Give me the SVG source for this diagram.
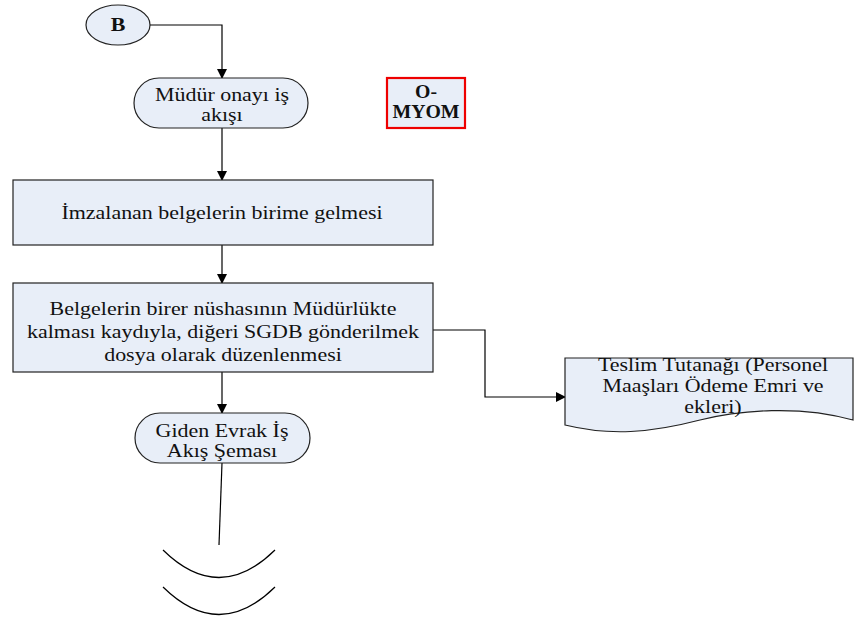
<svg xmlns="http://www.w3.org/2000/svg" width="867" height="618" viewBox="0 0 867 618">
<defs>
<marker id="ah" markerWidth="10" markerHeight="10" refX="9" refY="5" orient="auto" markerUnits="userSpaceOnUse">
<path d="M0,0 L10,5 L0,10 Z" fill="#000"/>
</marker>
</defs>
<style>
.s{fill:#e8eef8;stroke:#222;stroke-width:1.2}
.t{font-family:"Liberation Serif","Times New Roman",serif;font-size:18px;fill:#111;text-anchor:middle}
.b{font-weight:bold}
.c{fill:none;stroke:#000;stroke-width:1.2}
</style>
<rect width="867" height="618" fill="#fff"/>
<g id="connectors">
<path class="c" d="M150,25 H222 V78" marker-end="url(#ah)"/>
<path class="c" d="M222,128 V180" marker-end="url(#ah)"/>
<path class="c" d="M222,245 V283" marker-end="url(#ah)"/>
<path class="c" d="M433,330 H485 V397 H565" marker-end="url(#ah)"/>
<path class="c" d="M222,372 V413" marker-end="url(#ah)"/>
<path class="c" d="M222,463 L219,545"/>
<path class="c" d="M163,550 Q219,605 275,550"/>
<path class="c" d="M163,587 Q219,642 275,587"/>
</g>
<g id="nodeB">
<ellipse class="s" cx="118" cy="25" rx="32" ry="20"/>
<text class="t b" transform="translate(118 0) scale(1.22 1)" x="0" y="31" font-size="15">B</text>
</g>
<g id="mudur">
<rect class="s" x="134" y="78" width="174" height="50" rx="25"/>
<g transform="translate(222 0) scale(1.22 1)">
<text class="t" x="0" y="101">Müdür onayı iş</text>
<text class="t" x="0" y="121">akışı</text>
</g>
</g>
<g id="omyom">
<rect x="387" y="78" width="78" height="50" fill="#e8eef8" stroke="#e00" stroke-width="2.2"/>
<g transform="translate(426 0) scale(1.1 1)">
<text class="t b" x="0" y="98" font-size="15">O-</text>
<text class="t b" x="0" y="118" font-size="15">MYOM</text>
</g>
</g>
<g id="imza">
<rect class="s" x="13" y="180" width="420" height="65"/>
<text class="t" transform="translate(222 0) scale(1.22 1)" x="0" y="219">İmzalanan belgelerin birime gelmesi</text>
</g>
<g id="belge">
<rect class="s" x="13" y="283" width="420" height="89"/>
<g transform="translate(223 0) scale(1.22 1)">
<text class="t" x="0" y="315">Belgelerin birer nüshasının Müdürlükte</text>
<text class="t" x="0" y="338">kalması kaydıyla, diğeri SGDB gönderilmek</text>
<text class="t" x="0" y="361">dosya olarak düzenlenmesi</text>
</g>
</g>
<g id="teslim">
<path class="s" d="M565,358 H853 V420 C800,405 740,410 700,420 C650,433 610,436 565,425 Z"/>
<g transform="translate(713 0) scale(1.22 1)">
<text class="t" x="0" y="371">Teslim Tutanağı (Personel</text>
<text class="t" x="0" y="392">Maaşları Ödeme Emri ve</text>
<text class="t" x="0" y="413">ekleri)</text>
</g>
</g>
<g id="giden">
<rect class="s" x="135" y="413" width="175" height="50" rx="25"/>
<g transform="translate(222 0) scale(1.22 1)">
<text class="t" x="0" y="437">Giden Evrak İş</text>
<text class="t" x="0" y="457">Akış Şeması</text>
</g>
</g>
</svg>
